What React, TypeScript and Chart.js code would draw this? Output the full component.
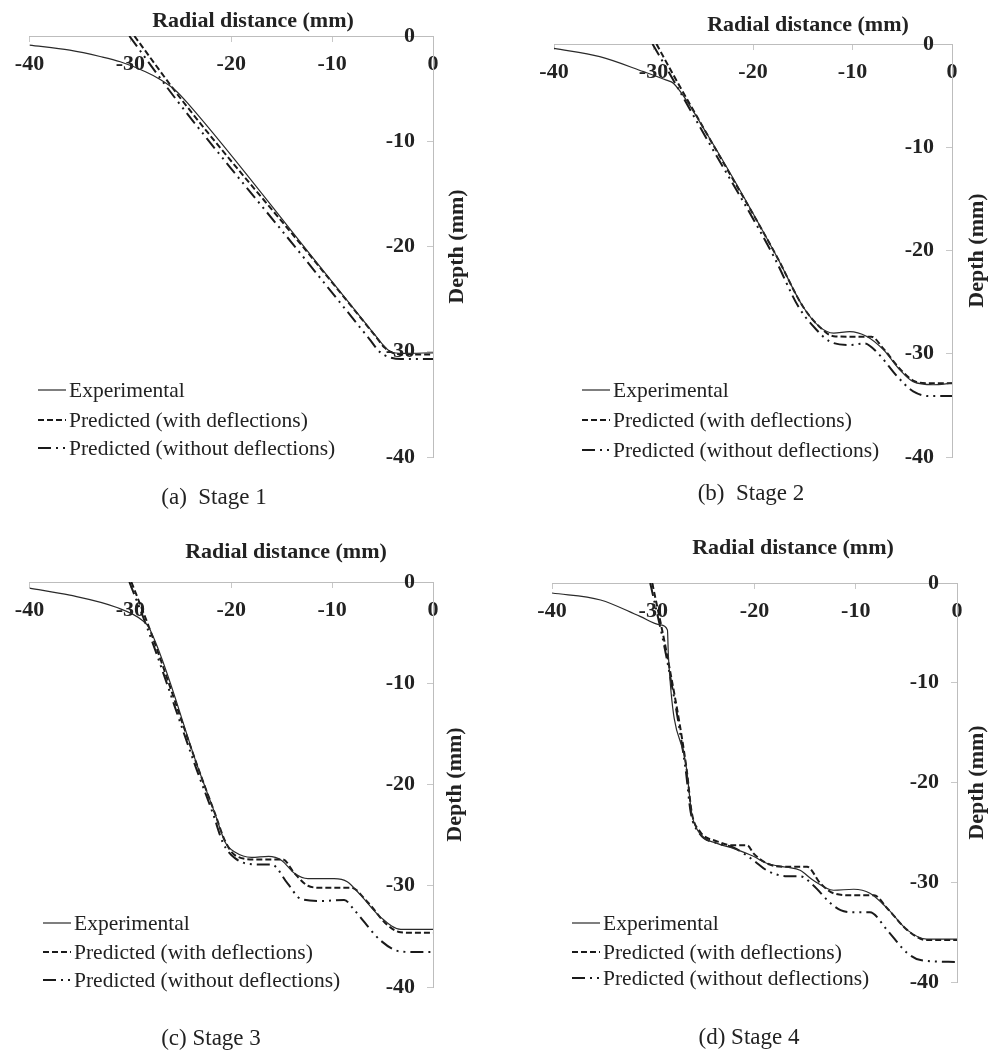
import React, { useEffect, useRef } from "react";
import { Chart, registerables } from "chart.js";

Chart.register(...registerables);

// ---------- shared labels ----------
const xTickValues = [-40, -30, -20, -10, 0];
const yTickValues = [0, -10, -20, -30, -40];
const xAxisTitle = "Radial distance (mm)";
const yAxisTitle = "Depth (mm)";
const seriesNames = [
  "Experimental",
  "Predicted (with deflections)",
  "Predicted (without deflections)",
];
const captions = ["(a)  Stage 1", "(b)  Stage 2", "(c) Stage 3", "(d) Stage 4"];

// ---------- Stage 1 ----------
const s1ExpX = [-40, -36, -33, -31, -28.5, -27, -25.6, -24.3, -11.8, -6, -5, -4.2, -3, 0];
const s1ExpY = [-0.86, -1.35, -1.95, -2.45, -3.4, -4.15, -5.1, -6.4, -21.2, -28.1, -29.3, -30.0, -30.15, -30.1];
const s1WithX = [-29.6, -24.8, -11.8, -5.8, -4.8, -4.0, -3, 0];
const s1WithY = [0, -6.2, -21.3, -28.4, -29.6, -30.1, -30.25, -30.25];
const s1WithoutX = [-30.1, -25.4, -12.6, -6.3, -5.3, -4.4, -3.2, 0];
const s1WithoutY = [0, -6.1, -21.3, -28.8, -30.0, -30.5, -30.7, -30.7];

// ---------- Stage 2 ----------
const s2ExpX = [-40, -35.4, -31.0, -28.7, -28.0, -24.7, -17.6, -15.0, -13.3, -11.9, -10.3, -8.6, -6.9, -5.2, -3.9, -1.9, 0];
const s2ExpY = [-0.42, -1.23, -2.68, -3.5, -3.8, -8.6, -20.6, -25.4, -27.4, -28.0, -27.85, -28.3, -29.6, -31.6, -32.7, -33.0, -32.85];
const s2WithX = [-29.7, -28.0, -24.7, -17.6, -15.0, -13.3, -11.9, -10, -8.1, -6.9, -5.2, -3.9, -2.5, 0];
const s2WithY = [0, -3.0, -8.6, -20.6, -25.4, -27.4, -28.3, -28.35, -28.35, -29.5, -31.5, -32.6, -32.85, -32.85];
const s2WithoutX = [-30.1, -28.3, -25.0, -17.9, -15.4, -13.6, -12.3, -10.3, -8.8, -7.5, -5.5, -3.9, -2.2, 0];
const s2WithoutY = [0, -3.0, -8.6, -20.6, -25.5, -27.7, -28.8, -29.15, -29.0, -29.9, -32.2, -33.65, -34.1, -34.1];

// ---------- Stage 3 ----------
const s3ExpX = [-40, -36, -31.4, -28.8, -28.1, -23.2, -21.6, -20.6, -19.6, -18.0, -16.3, -15.0, -13.7, -12.4, -9.8, -8.5, -7.2, -5.2, -3.2, -1.9, 0];
const s3ExpY = [-0.6, -1.3, -2.5, -3.8, -4.6, -18.6, -22.9, -25.7, -26.7, -27.2, -27.1, -27.5, -28.8, -29.3, -29.3, -29.6, -30.9, -33.1, -34.3, -34.3, -34.3];
const s3WithX = [-29.9, -28.1, -23.2, -21.6, -20.6, -19.6, -17.6, -14.9, -13.7, -12.4, -11.1, -8.1, -6.5, -4.5, -3.2, -1.5, 0];
const s3WithY = [0, -4.6, -18.6, -22.9, -25.6, -27.0, -27.4, -27.4, -28.8, -30.0, -30.2, -30.2, -31.6, -33.9, -34.6, -34.65, -34.65];
const s3WithoutX = [-30.1, -28.3, -23.4, -21.8, -20.8, -19.6, -17.3, -16.0, -14.4, -13.1, -11.1, -8.8, -7.8, -5.2, -3.2, -1.5, 0];
const s3WithoutY = [0, -4.6, -18.6, -22.9, -25.8, -27.3, -27.9, -27.9, -29.8, -31.3, -31.5, -31.4, -32.4, -35.4, -36.5, -36.55, -36.55];

// ---------- Stage 4 ----------
const s4ExpX = [-40, -35.2, -31.3, -29.3, -28.6, -28.5, -26.7, -26.2, -25.4, -23.7, -22.1, -20.1, -18.8, -16.8, -15.5, -14.2, -12.2, -10.2, -8.6, -6.9, -4.9, -3.0, 0];
const s4ExpY = [-1.0, -1.7, -3.35, -4.2, -4.7, -7.4, -18.7, -23.1, -25.1, -26.1, -26.6, -27.4, -28.1, -28.5, -28.8, -29.8, -30.8, -30.7, -31.1, -32.6, -34.8, -35.7, -35.7];
const s4WithX = [-30.1, -28.6, -26.7, -26.2, -25.4, -23.7, -22.1, -20.7, -20.1, -18.8, -17.1, -14.8, -13.5, -12.2, -10.5, -8.2, -6.9, -4.9, -3.0, 0];
const s4WithY = [0, -7.4, -18.7, -23.0, -24.9, -25.9, -26.3, -26.3, -27.1, -28.1, -28.45, -28.45, -30.1, -31.1, -31.3, -31.3, -32.6, -34.8, -35.8, -35.8];
const s4WithoutX = [-30.3, -28.7, -26.8, -26.3, -25.5, -23.7, -22.1, -20.1, -18.8, -16.8, -15.5, -14.2, -12.6, -11.5, -10.2, -8.6, -6.9, -4.9, -3.6, 0];
const s4WithoutY = [0, -7.4, -18.7, -23.0, -25.0, -26.1, -26.5, -27.8, -28.8, -29.4, -29.4, -30.3, -32.0, -32.8, -33.0, -33.0, -34.8, -37.1, -37.8, -38.0];

// ---------- styles & layout ----------
const lineStyles = [
  { color: "#2a2a2a", width: 1.2, dash: [] as number[] },
  { color: "#1a1a1a", width: 2, dash: [6, 3] },
  { color: "#1a1a1a", width: 2, dash: [13, 5, 2, 5, 2, 5] },
];

const FONT = '"Liberation Serif", "Times New Roman", serif';
const TEXT = "#222";

type Panel = {
  left: number; top: number; width: number; height: number;
  pad: { left: number; top: number; right: number; bottom: number };
  xTitleX: number; xTitleY: number; yTitleX: number;
  legendX: number; legendRows: number[];
  captionX: number; captionY: number;
  series: { x: number[]; y: number[] }[];
};

const panels: Panel[] = [
  {
    left: 0, top: 0, width: 499, height: 526,
    pad: { left: 27, top: 36, right: 66, bottom: 69 },
    xTitleX: 253, xTitleY: 21, yTitleX: 457,
    legendX: 38, legendRows: [390, 420, 448],
    captionX: 214, captionY: 497,
    series: [ { x: s1ExpX, y: s1ExpY }, { x: s1WithX, y: s1WithY }, { x: s1WithoutX, y: s1WithoutY } ],
  },
  {
    left: 499, top: 0, width: 500, height: 526,
    pad: { left: 55, top: 44, right: 47, bottom: 69 },
    xTitleX: 309, xTitleY: 25, yTitleX: 478,
    legendX: 582, legendRows: [390, 420, 450],
    captionX: 751, captionY: 493,
    series: [ { x: s2ExpX, y: s2ExpY }, { x: s2WithX, y: s2WithY }, { x: s2WithoutX, y: s2WithoutY } ],
  },
  {
    left: 0, top: 526, width: 499, height: 526,
    pad: { left: 26, top: 56, right: 66, bottom: 65 },
    xTitleX: 286, xTitleY: 26, yTitleX: 455,
    legendX: 43, legendRows: [923, 952, 980],
    captionX: 211, captionY: 1038,
    series: [ { x: s3ExpX, y: s3ExpY }, { x: s3WithX, y: s3WithY }, { x: s3WithoutX, y: s3WithoutY } ],
  },
  {
    left: 499, top: 526, width: 500, height: 526,
    pad: { left: 53, top: 57, right: 42, bottom: 70 },
    xTitleX: 294, xTitleY: 22, yTitleX: 478,
    legendX: 572, legendRows: [923, 952, 978],
    captionX: 749, captionY: 1037,
    series: [ { x: s4ExpX, y: s4ExpY }, { x: s4WithX, y: s4WithY }, { x: s4WithoutX, y: s4WithoutY } ],
  },
];

const axisTitlePlugin = {
  id: "axisTitles",
  afterDraw(chart: any, _args: any, opts: any) {
    const { ctx, chartArea } = chart;
    ctx.save();
    ctx.font = `bold 22px ${FONT}`;
    ctx.fillStyle = TEXT;
    ctx.textAlign = "center";
    ctx.textBaseline = "middle";
    ctx.fillText(xAxisTitle, opts.xTitleX, opts.xTitleY);
    ctx.translate(opts.yTitleX, (chartArea.top + chartArea.bottom) / 2);
    ctx.rotate(-Math.PI / 2);
    ctx.fillText(yAxisTitle, 0, 0);
    ctx.restore();
  },
};

function ChartPanel({ panel }: { panel: Panel }) {
  const ref = useRef<HTMLCanvasElement>(null);
  useEffect(() => {
    const tickFont = { family: FONT, size: 22, weight: "bold" as const, lineHeight: 1.2 };
    const chart = new Chart(ref.current as HTMLCanvasElement, {
      type: "line",
      data: {
        datasets: panel.series.map((s, i) => ({
          label: seriesNames[i],
          data: s.x.map((x, j) => ({ x, y: s.y[j] })),
          borderColor: lineStyles[i].color,
          borderWidth: lineStyles[i].width,
          borderDash: lineStyles[i].dash,
          pointRadius: 0,
          fill: false,
          cubicInterpolationMode: "monotone" as const,
        })),
      },
      options: {
        animation: false,
        responsive: false,
        events: [],
        layout: { padding: panel.pad },
        plugins: {
          legend: { display: false },
          tooltip: { enabled: false },
          axisTitles: { xTitleX: panel.xTitleX, xTitleY: panel.xTitleY, yTitleX: panel.yTitleX },
        } as any,
        scales: {
          x: {
            type: "linear",
            position: "top",
            min: -40,
            max: 0,
            afterBuildTicks: (s: any) => { s.ticks = xTickValues.map((v) => ({ value: v })); },
            afterFit: (s: any) => { s.height = 0; },
            grid: { drawOnChartArea: false, drawTicks: true, tickLength: -6, color: "#c8c8c8" },
            border: { color: "#bdbdbd", width: 1 },
            ticks: {
              autoSkip: false, maxRotation: 0, minRotation: 0, mirror: true,
              padding: 14.8, font: tickFont, color: TEXT,
              callback: (v: any) => String(v),
            },
          },
          y: {
            type: "linear",
            position: "right",
            min: -40,
            max: 0,
            afterBuildTicks: (s: any) => { s.ticks = yTickValues.map((v) => ({ value: v })); },
            afterFit: (s: any) => { s.width = 0; },
            grid: { drawOnChartArea: false, drawTicks: true, tickLength: -6, color: "#c8c8c8" },
            border: { color: "#bdbdbd", width: 1 },
            ticks: {
              autoSkip: false, mirror: true,
              padding: -18, font: tickFont, color: TEXT,
              callback: (v: any) => String(v),
            },
          },
        },
      },
      plugins: [axisTitlePlugin],
    } as any);
    return () => chart.destroy();
  }, [panel]);
  return (
    <canvas
      ref={ref}
      width={panel.width}
      height={panel.height}
      style={{ position: "absolute", left: panel.left, top: panel.top, width: panel.width, height: panel.height }}
    />
  );
}

function Legend({ panel }: { panel: Panel }) {
  return (
    <>
      {seriesNames.map((name, i) => (
        <div
          key={name}
          style={{
            position: "absolute", left: panel.legendX, top: panel.legendRows[i] - 13, height: 26,
            display: "flex", alignItems: "center", whiteSpace: "nowrap",
            fontFamily: FONT, fontSize: 21.5, color: TEXT,
          }}
        >
          <svg width={28} height={6} style={{ marginRight: 3 }}>
            <line x1={0} y1={3} x2={28} y2={3} stroke={lineStyles[i].color}
              strokeWidth={lineStyles[i].width}
              strokeDasharray={lineStyles[i].dash.length ? lineStyles[i].dash.join(" ") : undefined} />
          </svg>
          <span>{name}</span>
        </div>
      ))}
    </>
  );
}

export default function App() {
  return (
    <div style={{ position: "absolute", left: 0, top: 0, width: 999, height: 1052, background: "#fff", overflow: "hidden" }}>
      {panels.map((p, i) => (
        <React.Fragment key={i}>
          <ChartPanel panel={p} />
          <Legend panel={p} />
          <div
            style={{
              position: "absolute", left: p.captionX, top: p.captionY, transform: "translate(-50%, -50%)",
              fontFamily: FONT, fontSize: 23, color: TEXT, whiteSpace: "pre",
            }}
          >
            {captions[i]}
          </div>
        </React.Fragment>
      ))}
    </div>
  );
}
